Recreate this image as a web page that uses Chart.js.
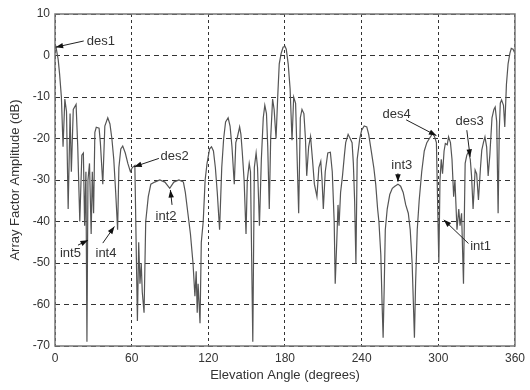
<!DOCTYPE html>
<html>
<head>
<meta charset="utf-8">
<script src="https://cdn.jsdelivr.net/npm/chart.js@4.4.1/dist/chart.umd.min.js"></script>
<style>
  html, body { margin: 0; padding: 0; background: #fff; }
  #wrap { width: 530px; height: 390px; }
</style>
</head>
<body>
<div id="wrap"><canvas id="chart" width="530" height="390"></canvas></div>
<script>
// elevation angle (deg) and array factor (dB)
const angles = [
  0, 0.8, 2.5, 3.6, 5, 6.3, 7.7, 9, 10.3, 11.8,
  12.8, 14.3, 16.5, 17.8, 19.4, 21, 22.2, 23.2, 24.2, 25,
  25.8, 27, 28.3, 29.2, 30.2, 31.2, 32.3, 34.5, 35.5, 37.4,
  39, 41.3, 43, 44.5, 46, 47.5, 49, 50, 51.5, 53,
  55, 57, 59, 60.5, 62.5, 64.5, 65.5, 66.5, 67.5, 68.3,
  69.7, 71, 73, 75, 78, 82, 86, 89.8, 93, 97,
  100.5, 102, 104, 106, 108, 109.5, 110.5, 111.3, 112, 113.5,
  114.5, 116, 117.5, 119, 121, 122.5, 124, 125.5, 127, 128.8,
  130.5, 132, 133.5, 135.5, 137, 138.5, 140.3, 141.5, 142.5, 144.5,
  145.5, 146.5, 148, 149.5, 150.5, 152, 153, 154.8, 156, 157.4,
  158.5, 160, 161.5, 163, 164.2, 165.5, 166.5, 167.7, 168.8, 170.3,
  171.5, 173, 174.3, 175.5, 177, 178.5, 180, 181, 182.5, 184,
  185.5, 186.8, 188.3, 190.7, 192, 193.3, 194.8, 196, 197, 198.5,
  200, 201.5, 203, 205, 206.5, 208, 209, 210, 211.5, 213.5,
  215.5, 217, 218.5, 219.3, 220.5, 221.5, 222.3, 223.5, 225, 226.5,
  227.5, 229.4, 231, 232.5, 233.5, 234.5, 235.5, 236.5, 238.5, 240,
  242, 244, 245.5, 247.5, 249.5, 251, 252.5, 253.5, 255, 256,
  256.8, 257.7, 258.5, 260, 262, 264, 266, 268.4, 270.5, 272.5,
  274.5, 276.5, 278, 279.5, 280.5, 281.3, 282.2, 283.5, 285, 287,
  289, 291, 293, 295.5, 297, 298.5, 300.4, 301.3, 302.3, 303.3,
  304.5, 305.5, 307, 308, 309.5, 310.7, 312, 313, 314.6, 316,
  317, 318.2, 319.7, 320.5, 321, 322.3, 323.6, 325, 326, 327.2,
  328.8, 330, 331.4, 333, 334, 335.3, 336.5, 337.8, 339, 340.3,
  342, 343.5, 344.5, 345.7, 346.8, 347.7, 348.5, 349.5, 351, 352,
  353.3, 354.6, 356, 357.1, 358.5, 360
];
const gainDb = [
  1.5, 2.0, -1, -4.5, -10, -22, -10.5, -13.5, -37, -14,
  -28, -13, -11.8, -22, -40, -24, -23.5, -41, -28, -69,
  -30, -26, -43, -28, -38, -18.5, -17.3, -17.5, -21, -31,
  -17, -15, -16.5, -20, -25, -33, -42, -27, -22.5, -21.8,
  -23.5, -26, -28, -27, -26.5, -64, -45, -55, -50, -57,
  -62, -40, -34, -31, -30.5, -30, -30.5, -32, -30.5, -30,
  -30.5, -33, -38, -43, -50, -58, -52, -62, -55, -64.5,
  -45, -40, -30, -26, -22.5, -22, -23, -27, -33, -42,
  -27, -20, -16, -15, -17, -22, -31, -21, -20, -17.2,
  -19, -23, -30, -43, -30, -26, -28, -69, -27, -23.5,
  -27, -41, -25, -15, -12, -14, -22, -37, -20, -10.5,
  -13, -20, -10, -2, 0.5, 2, 2.2, 1.5, -2, -8,
  -20.4, -10, -11.5, -38, -15, -13, -14, -20, -29, -22,
  -19.5, -25, -31, -34, -27, -25.5, -30, -37, -28, -23.5,
  -23.3, -28, -40, -55, -45, -36, -41, -33, -29, -24,
  -21, -19, -20, -21, -26, -35, -50, -25, -20, -18,
  -17, -17.2, -19, -23, -27, -31, -37, -40, -48, -60,
  -68, -55, -42, -37, -33.5, -32, -31.5, -31, -31.5, -33,
  -36, -38, -42, -50, -60, -68, -55, -42, -35, -28,
  -23, -21, -20, -18.8, -19.5, -21, -50, -30, -25, -28.5,
  -23, -21.2, -21.5, -19.6, -21, -25, -34, -30, -42, -37,
  -41, -38, -55, -36, -26, -24, -23.2, -25, -29, -37,
  -27.6, -28.5, -34.8, -27, -22.8, -21, -19.6, -22, -29, -24,
  -15, -13, -12.4, -16, -38, -18, -11.5, -10.7, -12, -17.2,
  -7, -2, 0.5, 1.7, 1.5, 0.5
];
const xTicks = [0, 60, 120, 180, 240, 300, 360];
const yTicks = [10, 0, -10, -20, -30, -40, -50, -60, -70];

// annotations: label, where the text sits, arrow start, arrow tip (deg, dB)
const noteText = ['des1', 'des2', 'int2', 'int5', 'int4', 'int3', 'des4', 'des3', 'int1'];
const noteLabel = [[24.8, 3.3], [82.6, -24.4], [78.7, -38.8], [3.9, -47.7], [31.7, -47.7],
                   [263.2, -26.4], [256.4, -14.1], [313.5, -16], [324.9, -46.1]];
const noteTail = [[22.5, 3.5], [81.3, -24.8], [91.6, -36], [18, -45.7], [37.4, -45.2],
                  [268.4, -28.4], [274.8, -15.5], [322.3, -18], [323.6, -45.3]];
const noteTip = [[0.5, 2], [62, -26.8], [90.3, -32.4], [25.8, -44.5], [46.5, -41.2],
                 [268.4, -30.4], [298.5, -19.3], [324.9, -24.4], [304.3, -39.6]];

const FONT = '"Liberation Sans", Arial, sans-serif';

const notesPlugin = {
  id: 'notes',
  afterDatasetsDraw(chart) {
    const { ctx, chartArea: a, scales: { x, y } } = chart;
    ctx.save();
    // solid frame round the plot box
    ctx.setLineDash([]);
    ctx.strokeStyle = '#777';
    ctx.lineWidth = 1.5;
    ctx.strokeRect(a.left, a.top, a.right - a.left, a.bottom - a.top);

    ctx.font = '13px ' + FONT;
    ctx.fillStyle = '#333';
    ctx.strokeStyle = '#222';
    ctx.lineWidth = 1;
    ctx.textAlign = 'left';
    ctx.textBaseline = 'middle';
    noteText.forEach((t, i) => {
      ctx.fillText(t, x.getPixelForValue(noteLabel[i][0]), y.getPixelForValue(noteLabel[i][1]));
      const x0 = x.getPixelForValue(noteTail[i][0]), y0 = y.getPixelForValue(noteTail[i][1]);
      const x1 = x.getPixelForValue(noteTip[i][0]), y1 = y.getPixelForValue(noteTip[i][1]);
      ctx.beginPath();
      ctx.moveTo(x0, y0);
      ctx.lineTo(x1, y1);
      ctx.stroke();
      const ang = Math.atan2(y1 - y0, x1 - x0);
      ctx.beginPath();
      ctx.moveTo(x1, y1);
      ctx.lineTo(x1 - 8 * Math.cos(ang - 0.35), y1 - 8 * Math.sin(ang - 0.35));
      ctx.lineTo(x1 - 8 * Math.cos(ang + 0.35), y1 - 8 * Math.sin(ang + 0.35));
      ctx.closePath();
      ctx.fillStyle = '#111';
      ctx.fill();
      ctx.fillStyle = '#333';
    });
    ctx.restore();
  }
};

new Chart(document.getElementById('chart'), {
  type: 'line',
  data: {
    datasets: [{
      data: angles.map((a, i) => ({ x: a, y: gainDb[i] })),
      borderColor: '#555',
      borderWidth: 1.2,
      pointRadius: 0,
      tension: 0,
      fill: false
    }]
  },
  options: {
    responsive: false,
    animation: false,
    devicePixelRatio: 1,
    layout: { padding: { top: 14, right: 10, left: 0, bottom: 0 } },
    plugins: { legend: { display: false }, tooltip: { enabled: false } },
    scales: {
      x: {
        type: 'linear',
        min: 0,
        max: 360,
        afterBuildTicks: (s) => { s.ticks = xTicks.map(v => ({ value: v })); },
        afterFit: (s) => { s.height = 44; },
        ticks: { color: '#333', font: { family: FONT, size: 12 }, padding: 5, maxRotation: 0 },
        grid: { color: '#333', lineWidth: 1, drawTicks: false },
        border: { display: false, dash: [3, 3] },
        title: { display: true, text: 'Elevation Angle (degrees)', color: '#333',
                 font: { family: FONT, size: 13 }, padding: { top: 0, bottom: 7 } }
      },
      y: {
        min: -70,
        max: 10,
        afterBuildTicks: (s) => { s.ticks = yTicks.map(v => ({ value: v })); },
        afterFit: (s) => { s.width = 55; },
        ticks: { color: '#333', font: { family: FONT, size: 12 }, padding: 5 },
        grid: { color: '#333', lineWidth: 1, drawTicks: false },
        border: { display: false, dash: [5, 4] },
        title: { display: true, text: 'Array Factor Amplitude (dB)', color: '#333',
                 font: { family: FONT, size: 13 }, padding: { top: 8, bottom: 0 } }
      }
    }
  },
  plugins: [notesPlugin]
});
</script>
</body>
</html>
